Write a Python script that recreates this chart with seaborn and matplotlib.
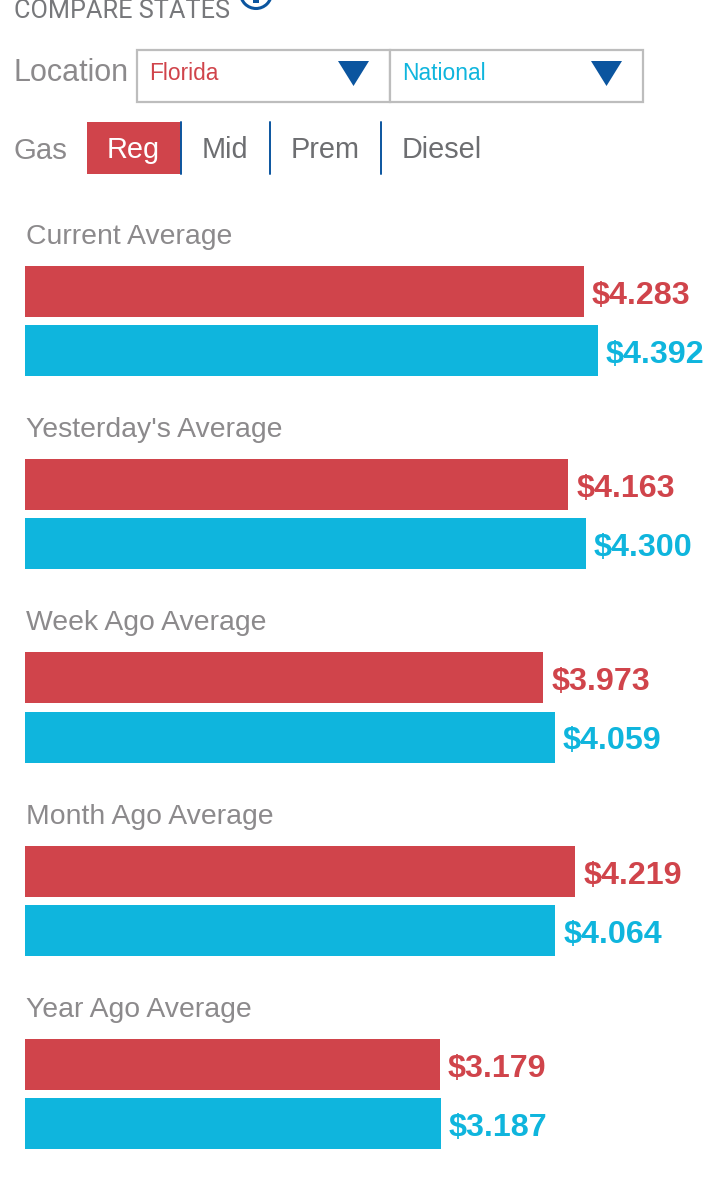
import matplotlib
matplotlib.use("Agg")
import matplotlib.pyplot as plt
from matplotlib.patches import Rectangle, Polygon, Circle
import seaborn as sns
import pandas as pd

W, H = 725, 1200
periods = ["Current Average", "Yesterday's Average", "Week Ago Average", "Month Ago Average", "Year Ago Average"]
florida = [4.283, 4.163, 3.973, 4.219, 3.179]
national = [4.392, 4.300, 4.059, 4.064, 3.187]
grades = ["Reg", "Mid", "Prem", "Diesel"]
RED, BLUE, NAVY = "#D0444B", "#0FB5DD", "#0B559F"
GRAY = "#8C8A8C"

sns.set_theme(style="white")
plt.rcParams['font.family'] = ['Liberation Sans', 'DejaVu Sans']
fig = plt.figure(figsize=(W/100, H/100), dpi=100)
bg = fig.add_axes([0, 0, 1, 1])
bg.set_xlim(0, W); bg.set_ylim(H, 0); bg.axis("off")

bg.text(14, 17.5, "COMPARE STATES", fontsize=18.2, color="#77787B", va="baseline", family="Roboto")
bg.add_patch(Circle((256, -7), 15.5, fc="none", ec=NAVY, lw=2.2))
bg.add_patch(Rectangle((253, -1), 6.5, 3.5, fc=NAVY, ec="none"))
bg.text(14, 73, "Location", fontsize=22, color=GRAY, va="center")
for x0, w, label, c in [(137, 253, "Florida", RED), (390, 253, "National", BLUE)]:
    bg.add_patch(Rectangle((x0, 50), w, 52, fc="white", ec="#BDBDBD", lw=1.6))
    bg.text(x0 + 12, 74, label, fontsize=16.4, color=c, va="center")
    bg.add_patch(Polygon([[x0+201, 61], [x0+232, 61], [x0+216.5, 86]], fc=NAVY, ec="none"))

bg.text(14, 151, "Gas", fontsize=21.2, color=GRAY, va="center")
bg.add_patch(Rectangle((87, 122), 94, 52, fc=RED, ec="none"))
for x, label, c in zip([133.5, 225, 325, 442], grades, ["white", "#6D6E71", "#6D6E71", "#6D6E71"]):
    bg.text(x, 150, label, fontsize=20.8, color=c, va="center", ha="center")
for x in [181, 270, 381]:
    bg.plot([x, x], [122, 174], color=NAVY, lw=1.4)

df = pd.DataFrame({
    "period": periods * 2,
    "location": ["Florida"] * 5 + ["National"] * 5,
    "price": florida + national,
})
top, bottom = 266, 1149
ax = fig.add_axes([25/W, 1 - bottom/H, 1 - 25/W, (bottom - top)/H])
ax.patch.set_alpha(0)
sns.barplot(data=df, y="period", x="price", hue="location", order=periods,
            palette=[RED, BLUE], saturation=1, width=0.611, gap=0.136, dodge=True,
            linewidth=0, legend=False, ax=ax)
ax.set_xlim(0, 4.392 * 700 / 573)
ax.set_ylim(4.2847, -0.2847)
ax.set_xlabel(""); ax.set_ylabel(""); ax.set_xticks([]); ax.set_yticks([])
sns.despine(ax=ax, left=True, bottom=True)
for cont, c in zip(ax.containers, [RED, BLUE]):
    labs = ax.bar_label(cont, labels=[f"${p.get_width():.3f}" for p in cont], padding=5.8,
                        color=c, fontsize=23.2, fontweight="bold")
    for lab in labs:
        lab.xyann = (lab.xyann[0], lab.xyann[1] - 3.2)
for i, p in enumerate(periods):
    bg.text(26, 237 + i * 193.2, p, fontsize=20.4, color=GRAY, va="center")

fig.savefig("out.png", dpi=100)
